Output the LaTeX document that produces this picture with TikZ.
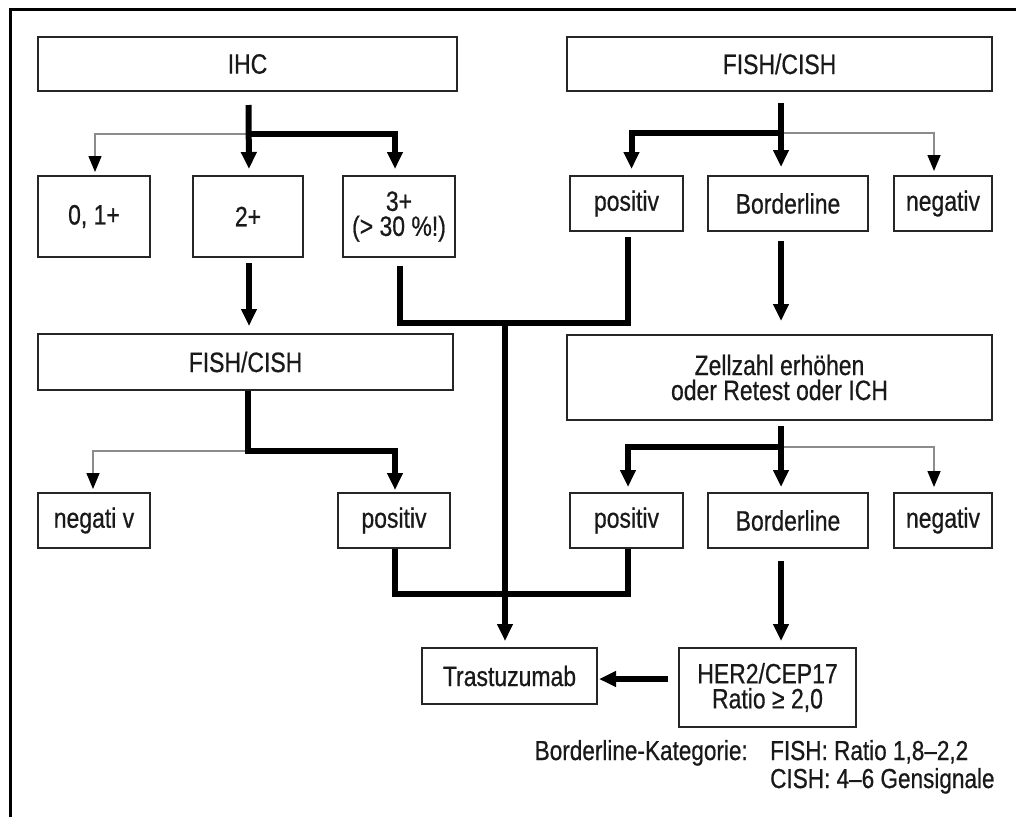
\documentclass[tikz,border=0pt]{standalone}
\usepackage{fontspec}
\setmainfont{Liberation Sans}[FakeStretch=0.82,FakeBold=0.6]
\usetikzlibrary{arrows.meta}
\begin{document}
\begin{tikzpicture}[x=1pt,y=-1pt,
  box/.style={draw=black!85,line width=2pt,inner sep=0pt,align=center,text=black!90,
    font=\fontsize{28}{25}\selectfont},
  lbl/.style={inner sep=0pt,text=black!90,font=\fontsize{27.5}{28}\selectfont},
  thkl/.style={line width=6pt,line join=miter,black},
  thk/.style={thkl,-{Triangle[width=15pt,length=17pt]}},
  thn/.style={line width=1.5pt,black!45,-{Triangle[width=13pt,length=16pt,color=black]}}]
\useasboundingbox (0,0) rectangle (1016,817);
% frame
\draw[line width=3pt] (10,817) -- (10,9) -- (1016,9);
% nodes
\node[box,minimum width=419pt,minimum height=54pt] (ihc) at (247.5,64) {IHC};
\node[box,minimum width=425pt,minimum height=54pt] (fc1) at (779.5,64) {FISH/CISH};
\node[box,minimum width=112pt,minimum height=81pt] (b01) at (94,216.5) {0, 1+};
\node[box,minimum width=110pt,minimum height=81pt] (b2) at (248,216.5) {2+};
\node[box,minimum width=112pt,minimum height=81pt] (b3) at (399,216.5) {3+\\(> 30 \%!)};
\node[box,minimum width=113pt,minimum height=55pt] (rpos1) at (626.5,203.5) {positiv};
\node[box,minimum width=160pt,minimum height=55pt] (rbord1) at (788,203.5) {Borderline};
\node[box,minimum width=98pt,minimum height=55pt] (rneg1) at (943,203.5) {negativ};
\node[box,minimum width=415pt,minimum height=56pt] (fc2) at (245.5,362) {FISH/CISH};
\node[box,minimum width=425pt,minimum height=85pt] (zell) at (779.5,377.5) {Zellzahl erhöhen\\oder Retest oder ICH};
\node[box,minimum width=112pt,minimum height=55pt] (lneg) at (94,520.5) {negati v};
\node[box,minimum width=112pt,minimum height=55pt] (lpos) at (394,520.5) {positiv};
\node[box,minimum width=113pt,minimum height=55pt] (rpos2) at (626.5,520.5) {positiv};
\node[box,minimum width=160pt,minimum height=55pt] (rbord2) at (788,520.5) {Borderline};
\node[box,minimum width=98pt,minimum height=55pt] (rneg2) at (943,520.5) {negativ};
\node[box,minimum width=175pt,minimum height=56pt] (tras) at (509.5,676) {Trastuzumab};
\node[box,minimum width=177pt,minimum height=79pt] (her) at (767.5,687.5) {HER2/CEP17\\Ratio ≥ 2,0};
\node[lbl,anchor=base east] (bk) at (748,760) {Borderline-Kategorie:};
\node[lbl,anchor=base west] (fish) at (770,760) {FISH: Ratio 1,8–2,2};
\node[lbl,anchor=base west] (cish) at (770,788) {CISH: 4–6 Gensignale};
% junction coordinates
\coordinate (j1) at (249,134);
\coordinate (k1) at (781,133);
\coordinate (k2) at (781,447);
\coordinate (k3) at (248,451);
\coordinate (m1) at (505,323);
\coordinate (m2) at (505,594);
% IHC branches
\draw[thn,shorten >=3pt] (j1) -| ([xshift=1pt]b01.north);
\draw[thk,shorten >=6pt] ([xshift=1pt,yshift=-13pt]ihc.south) -- ([xshift=1pt]b2.north);
\draw[thk,shorten >=6pt] (j1) -| ([xshift=-4pt]b3.north);
% 2+ to FISH/CISH
\draw[thk,shorten >=7pt] ([xshift=1pt,yshift=-5pt]b2.south) -- ([xshift=3.5pt]fc2.north);
% FISH/CISH right branches
\draw[thn,shorten >=4pt] (k1) -| ([xshift=-9pt]rneg1.north);
\draw[thk,shorten >=8pt] ([xshift=1.5pt,yshift=-11pt]fc1.south) -- (k1 |- rbord1.north);
\draw[thk,shorten >=6pt] (k1) -| ([xshift=5pt]rpos1.north);
% 3+ and positiv to trunk
\draw[thkl] ([xshift=1pt,yshift=-8pt]b3.south) |- (m1) -| ([xshift=1.5pt,yshift=-5pt]rpos1.south);
\draw[thk,shorten >=6pt] (m1) -- (m1 |- tras.north);
% Borderline to Zellzahl
\draw[thk,shorten >=13pt] ([yshift=-9pt]rbord1.south -| k1) -- (k1 |- zell.north);
% Zellzahl branches
\draw[thn,shorten >=5pt] (k2) -| ([xshift=-9pt]rneg2.north);
\draw[thk,shorten >=5pt] ([yshift=-5pt]zell.south -| k2) -- (k2 |- rbord2.north);
\draw[thk,shorten >=5pt] (k2) -| ([xshift=1.5pt]rpos2.north);
% FISH/CISH left branches
\draw[thn,shorten >=3pt] (k3) -| ([xshift=-1pt]lneg.north);
\draw[thk,shorten >=2pt] (fc2.south -| k3) -- (k3) -| ([xshift=1pt]lpos.north);
% positiv U
\draw[thkl] ([xshift=1pt]lpos.south) |- (m2) -| ([xshift=1.5pt]rpos2.south);
% Borderline to HER2
\draw[thk,shorten >=6pt] ([yshift=-12pt]rbord2.south -| k2) -- (k2 |- her.north);
% HER2 to Trastuzumab
\draw[thk,shorten >=1pt] ([xshift=-10pt,yshift=8.5pt]her.west) -- ([yshift=-3pt]tras.east);
\end{tikzpicture}
\end{document}
